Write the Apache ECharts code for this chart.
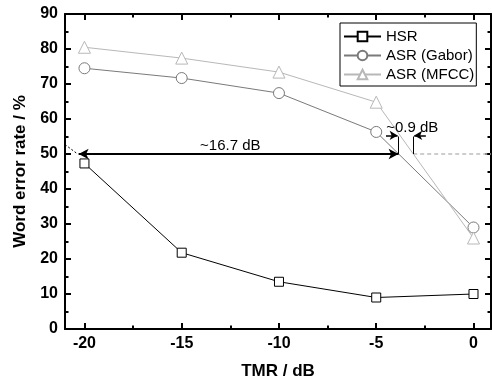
<!DOCTYPE html>
<html>
<head>
<meta charset="utf-8">
<script src="https://cdn.jsdelivr.net/npm/echarts@6/dist/echarts.min.js"></script>
<style>
  html, body { margin: 0; padding: 0; background: #fff; }
  #chart { width: 492px; height: 385px; }
</style>
</head>
<body>
<div id="chart"></div>
<script>
// TMR values (dB) and word error rates (%)
const tmr = [-20, -15, -10, -5, 0];
const hsr = [47.3, 21.8, 13.5, 9.0, 10.0];
const asrGabor = [74.5, 71.7, 67.4, 56.3, 29.0];
const asrMfcc = [80.5, 77.4, 73.4, 64.8, 26.0];

const xMajorTicks = [-20, -15, -10, -5, 0];
const xMinorTicks = [-17.5, -12.5, -7.5, -2.5];

// annotation coordinates [tmr, wer]
const mainArrow = [[-20.3, 50], [-3.85, 50]];
const extrapDotted = [[-21, 52.7], [-20.35, 50]];
const greyDashed = [[-3.1, 50], [0.9, 50]];
const crossGabor = [[-3.85, 50], [-3.85, 55]];
const crossMfcc = [[-3.1, 50], [-3.1, 55]];
const smallArrowL = [[-4.5, 55.3], [-3.9, 55.3]];
const smallArrowR = [[-2.45, 55.3], [-3.05, 55.3]];
const label167 = [-12.5, 52.4];
const label09 = [-3.15, 57.6];

const font = 'Liberation Sans, Arial, sans-serif';
const chart = echarts.init(document.getElementById('chart'));

const makeSeries = (name, values, color, symbol, size) => ({
    name,
    type: 'line',
    data: tmr.map((t, i) => [t, values[i]]),
    symbol,
    symbolSize: size,
    showAllSymbol: true,
    lineStyle: { color, width: 1 },
    itemStyle: { color: '#fff', borderColor: color, borderWidth: 1 },
    emphasis: { disabled: true },
    z: 3
});

const seg = (pts, style, symbols, symbolSize) => [
    { coord: pts[0], symbol: symbols[0], symbolSize, lineStyle: style },
    { coord: pts[1], symbol: symbols[1], symbolSize }
];

// four x axes: major + minor ticks on bottom and top (frame)
const xAxisFor = (position, ticks, len, showLine, extra) => ({
    type: 'value',
    min: -21,
    max: 0.9,
    position,
    splitLine: { show: false },
    axisLine: { show: showLine, onZero: false, lineStyle: { color: '#000', width: 2 } },
    axisTick: { show: true, inside: true, length: len, customValues: ticks, lineStyle: { color: '#000', width: 2 } },
    axisLabel: { show: false },
    ...extra
});

const yAxisFor = (position, extra) => ({
    type: 'value',
    min: 0,
    max: 90,
    interval: 10,
    position,
    splitLine: { show: false },
    axisLine: { show: true, onZero: false, lineStyle: { color: '#000', width: 2 } },
    axisTick: { show: true, inside: true, length: 6, lineStyle: { color: '#000', width: 2 } },
    minorTick: { show: true, splitNumber: 2, length: 3.5, lineStyle: { color: '#000', width: 2 } },
    axisLabel: { show: false },
    ...extra
});

chart.setOption({
    animation: false,
    backgroundColor: '#fff',
    grid: { left: 65, right: 1, top: 14, bottom: 56 },
    xAxis: [
        xAxisFor('bottom', xMajorTicks, 6, true, {
            name: 'TMR / dB',
            nameLocation: 'middle',
            nameGap: 34,
            nameTextStyle: { fontFamily: font, fontSize: 17, fontWeight: 'bold', color: '#000' },
            axisLabel: { customValues: xMajorTicks, margin: 7, fontFamily: font, fontSize: 16, fontWeight: 'bold', color: '#000' }
        }),
        xAxisFor('top', xMajorTicks, 6, true, {}),
        xAxisFor('bottom', xMinorTicks, 3.5, false, {}),
        xAxisFor('top', xMinorTicks, 3.5, false, {})
    ],
    yAxis: [
        yAxisFor('left', {
            name: 'Word error rate / %',
            nameLocation: 'middle',
            nameGap: 35,
            nameTextStyle: { fontFamily: font, fontSize: 17, fontWeight: 'bold', color: '#000' },
            axisLabel: { margin: 7, fontFamily: font, fontSize: 16, fontWeight: 'bold', color: '#000' }
        }),
        yAxisFor('right', {})
    ],
    legend: {
        data: ['HSR', 'ASR (Gabor)', 'ASR (MFCC)'],
        orient: 'vertical',
        left: 340,
        top: 23,
        itemWidth: 37,
        itemHeight: 12,
        itemGap: 4,
        padding: [6, 2, 4, 3],
        borderColor: '#000',
        borderWidth: 1,
        borderRadius: 0,
        backgroundColor: '#fff',
        textStyle: { fontFamily: font, fontSize: 15, color: '#000' }
    },
    series: [
        makeSeries('HSR', hsr, '#000', 'rect', 9),
        makeSeries('ASR (Gabor)', asrGabor, '#7a7a7a', 'circle', 11),
        makeSeries('ASR (MFCC)', asrMfcc, '#b8b8b8', 'triangle', 12),
        {
            name: 'annot',
            type: 'line',
            data: [],
            silent: true,
            z: 4,
            markLine: {
                silent: true,
                animation: false,
                label: { show: false },
                lineStyle: { color: '#000', width: 1, type: 'solid' },
                data: [
                    seg(mainArrow, { color: '#000', width: 2 }, ['arrow', 'arrow'], [8, 10]),
                    seg(extrapDotted, { color: '#000', width: 1, type: [2, 2] }, ['none', 'none'], 0),
                    seg(greyDashed, { color: '#bdbdbd', width: 1.5, type: [4, 3] }, ['none', 'none'], 0),
                    seg(crossGabor, { color: '#000', width: 1 }, ['none', 'none'], 0),
                    seg(crossMfcc, { color: '#000', width: 1 }, ['none', 'none'], 0),
                    seg(smallArrowL, { color: '#000', width: 1.5 }, ['none', 'arrow'], [7, 8]),
                    seg(smallArrowR, { color: '#000', width: 1.5 }, ['none', 'arrow'], [7, 8])
                ]
            },
            markPoint: {
                silent: true,
                animation: false,
                symbol: 'circle',
                symbolSize: 1,
                itemStyle: { color: 'rgba(0,0,0,0)' },
                label: { show: true, position: 'inside', fontFamily: font, fontSize: 15, color: '#000' },
                data: [
                    { coord: label167, label: { formatter: '~16.7 dB' } },
                    { coord: label09, label: { formatter: '~0.9 dB' } }
                ]
            }
        }
    ]
});
</script>
</body>
</html>
